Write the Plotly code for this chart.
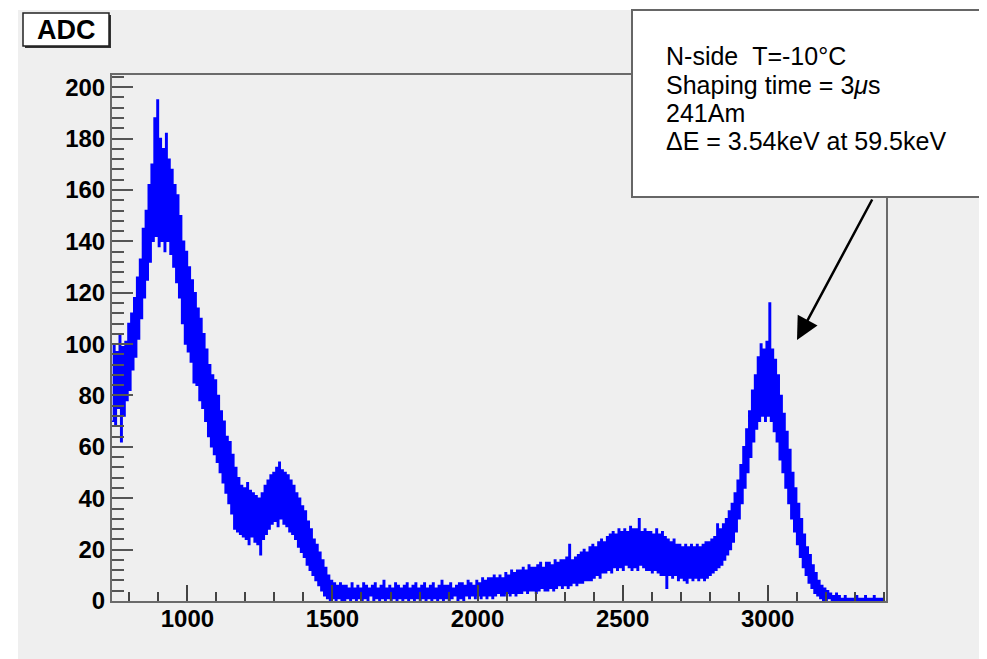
import plotly.graph_objects as go

# ---------------- data ----------------
adc_start = 740          # lower edge of first bin (ADC channel)
bin_width = 5            # ADC channels per bin

counts_low_peak = [
    70, 100, 68, 97, 75, 104, 62, 99, 72, 101,
    78, 108, 82, 112, 90, 118, 95, 126, 102, 133,
    110, 145, 118, 152, 125, 162, 132, 170, 140, 188,
    142, 195, 138, 180, 140, 176, 136, 182, 140, 172,
    135, 168, 130, 162, 124, 158, 118, 150, 108, 140,
    100, 136, 97, 130, 93, 125, 85, 120, 84, 114,
    78, 110, 75, 104, 70, 98, 64, 92, 60, 88,
    57, 86, 54, 80, 50, 74, 46, 70, 42, 64,
    38, 62, 34, 57, 28, 52, 27, 48, 26, 45,
    25, 44, 24, 46, 22, 43, 25, 42, 23, 41,
]
counts_second_bump = [
    22, 40, 18, 42, 24, 45, 26, 47, 28, 49,
    30, 50, 31, 52, 29, 54, 32, 51, 30, 50,
    29, 49, 27, 47, 26, 45, 24, 42, 21, 40,
    19, 37, 17, 35, 14, 31, 12, 28, 10, 24,
    8, 22, 6, 19, 4, 16, 2, 13, 1, 10,
    0, 8, 1, 7, 0, 6, 1, 7, 0, 6,
]
counts_valley = [
    0, 6, 1, 5, 0, 7, 1, 5, 0, 6,
    1, 5, 0, 7, 1, 6, 0, 5, 2, 6,
    0, 7, 1, 5, 0, 6, 1, 8, 0, 5,
    1, 6, 0, 5, 1, 7, 0, 6, 1, 5,
    0, 6, 1, 7, 0, 5, 1, 6, 0, 7,
    1, 5, 0, 6, 1, 7, 0, 5, 1, 6,
    0, 7, 1, 5, 0, 6, 1, 8, 0, 6,
    1, 6, 0, 7, 1, 5, 2, 6, 0, 7,
    1, 7, 0, 6, 2, 8, 1, 7, 2, 6,
    1, 8, 2, 7, 1, 9, 2, 8, 1, 9,
]
counts_compton = [
    2, 9, 1, 10, 2, 9, 3, 10, 2, 9,
    2, 11, 3, 10, 2, 12, 3, 11, 2, 12,
    3, 12, 3, 13, 4, 12, 3, 14, 4, 13,
    4, 13, 3, 14, 4, 15, 5, 13, 4, 15,
    4, 15, 5, 14, 4, 16, 5, 15, 6, 16,
    5, 16, 6, 17, 5, 22, 6, 16, 7, 17,
    6, 18, 7, 19, 7, 20, 8, 19, 8, 21,
    8, 22, 9, 21, 10, 23, 9, 24, 11, 23,
    11, 25, 12, 26, 11, 27, 13, 26, 12, 28,
    13, 27, 12, 28, 14, 27, 13, 29, 12, 28,
    13, 28, 12, 32, 14, 27, 13, 28, 12, 27,
    12, 27, 11, 26, 12, 28, 11, 26, 10, 27,
    10, 25, 5, 24, 10, 23, 9, 24, 10, 22,
    8, 22, 9, 21, 8, 22, 7, 21, 9, 22,
    8, 21, 9, 22, 8, 21, 9, 22, 8, 23,
    9, 23, 10, 24, 11, 25, 12, 30, 13, 28,
    14, 30, 16, 32, 18, 35, 20, 38, 23, 42,
]
counts_am_peak = [
    27, 47, 32, 53, 38, 60, 44, 67, 50, 74,
    56, 82, 62, 88, 67, 95, 70, 100, 72, 98,
    70, 101, 72, 116, 70, 98, 66, 94, 62, 88,
    55, 80, 50, 73, 44, 66, 38, 59, 32, 50,
    27, 44, 22, 38, 17, 32, 13, 26, 10, 21,
    7, 18, 5, 14, 3, 11, 2, 8, 1, 6,
    0, 5, 0, 4, 1, 3, 0, 2, 0, 3,
    0, 2, 0, 1, 0, 2, 0, 1, 0, 1,
    0, 1, 0, 2, 0, 1, 0, 1, 0, 2,
    0, 1, 0, 1, 0, 2, 0, 1, 0, 1,
    0, 1, 0,
]

x_range = [740, 3408]
y_range = [0, 204.75]
x_tick_vals = [1000, 1500, 2000, 2500, 3000]
y_tick_vals = [0, 20, 40, 60, 80, 100, 120, 140, 160, 180, 200]

title_text = "ADC"
info_lines = [
    "N-side\u00a0\u00a0T=-10\u00b0C",
    "Shaping time = 3<i>\u03bc</i>s",
    "241Am",
    "\u0394E = 3.54keV at 59.5keV",
]

# ---------------- build ----------------
counts = counts_low_peak + counts_second_bump + counts_valley + counts_compton + counts_am_peak
edges = [adc_start + bin_width * i for i in range(len(counts) + 1)]
ys = counts + [counts[-1]]

OFF = 8                         # page body margin in the browser
W, H = 987 - OFF, 659 - OFF
L, R, T, B = 112, 886, 75, 601  # plot frame in screen pixels
pw, ph = R - L, B - T


def px(xp):
    return (xp - L) / pw


def py(yp):
    return (B - yp) / ph


fig = go.Figure()
fig.add_trace(go.Scatter(
    x=edges, y=ys, mode="lines", line_shape="hv",
    line=dict(color="#0000ff", width=1.5), hoverinfo="skip", showlegend=False,
))

canvas = "#efefef"
frame = "#6a6a6a"
shapes = [
    dict(type="rect", xref="paper", yref="paper", layer="below",
         x0=px(18), x1=px(981), y0=py(10), y1=py(660),
         fillcolor=canvas, line=dict(width=0)),
    dict(type="line", xref="paper", yref="paper", layer="below",
         x0=px(981), x1=px(981), y0=py(10), y1=py(660),
         line=dict(color="#bbbbbb", width=2)),
    dict(type="rect", xref="paper", yref="paper", layer="above",
         x0=px(25), x1=px(111), y0=py(15), y1=py(48),
         fillcolor="#333333", line=dict(width=0)),
    dict(type="rect", xref="paper", yref="paper", layer="above",
         x0=px(23), x1=px(109), y0=py(13), y1=py(46),
         fillcolor="white", line=dict(color="#222222", width=1.5)),
    dict(type="rect", xref="paper", yref="paper", layer="above",
         x0=px(632), x1=px(982), y0=py(10), y1=py(197),
         fillcolor="white", line=dict(color="#666666", width=2)),
]

annotations = [
    dict(xref="paper", yref="paper", x=px(66), y=py(30), text=f"<b>{title_text}</b>",
         showarrow=False, xanchor="center", yanchor="middle",
         font=dict(family="Liberation Sans, Arial", size=27, color="black")),
    dict(xref="paper", yref="paper", x=px(797), y=py(340), ax=76, ay=-142,
         axref="pixel", ayref="pixel", text="", showarrow=True,
         arrowhead=2, arrowsize=1.8, arrowwidth=2.5, arrowcolor="black"),
]
line_y = [56, 85, 113, 141]
for txt, yy in zip(info_lines, line_y):
    annotations.append(dict(
        xref="paper", yref="paper", x=px(664), y=py(yy), text=txt,
        showarrow=False, xanchor="left", yanchor="middle",
        font=dict(family="Liberation Sans, Arial", size=25, color="black")))

tickfont = dict(family="Liberation Sans, Arial", size=24, color="black", weight="bold")

fig.update_layout(
    width=W, height=H,
    margin=dict(l=L - OFF, r=W - (R - OFF), t=T - OFF, b=H - (B - OFF), pad=0),
    paper_bgcolor="white", plot_bgcolor=canvas,
    shapes=shapes, annotations=annotations,
    xaxis=dict(
        range=x_range, showgrid=False, zeroline=False,
        tickmode="array", tickvals=x_tick_vals,
        ticks="inside", ticklen=16, tickwidth=2, tickcolor="#444444",
        minor=dict(dtick=100, tick0=0, ticks="inside", ticklen=9, tickwidth=2, tickcolor="#444444"),
        showline=True, linecolor=frame, linewidth=2, mirror=True,
        tickfont=tickfont, ticklabelstandoff=-5,
    ),
    yaxis=dict(
        range=y_range, showgrid=False, zeroline=False,
        tickmode="array", tickvals=y_tick_vals,
        ticks="inside", ticklen=21, tickwidth=2, tickcolor="#555555",
        minor=dict(dtick=4, tick0=0, ticks="inside", ticklen=12, tickwidth=2, tickcolor="#555555"),
        showline=True, linecolor=frame, linewidth=2, mirror=True,
        tickfont=tickfont,
    ),
)

fig.write_html("out.html")
